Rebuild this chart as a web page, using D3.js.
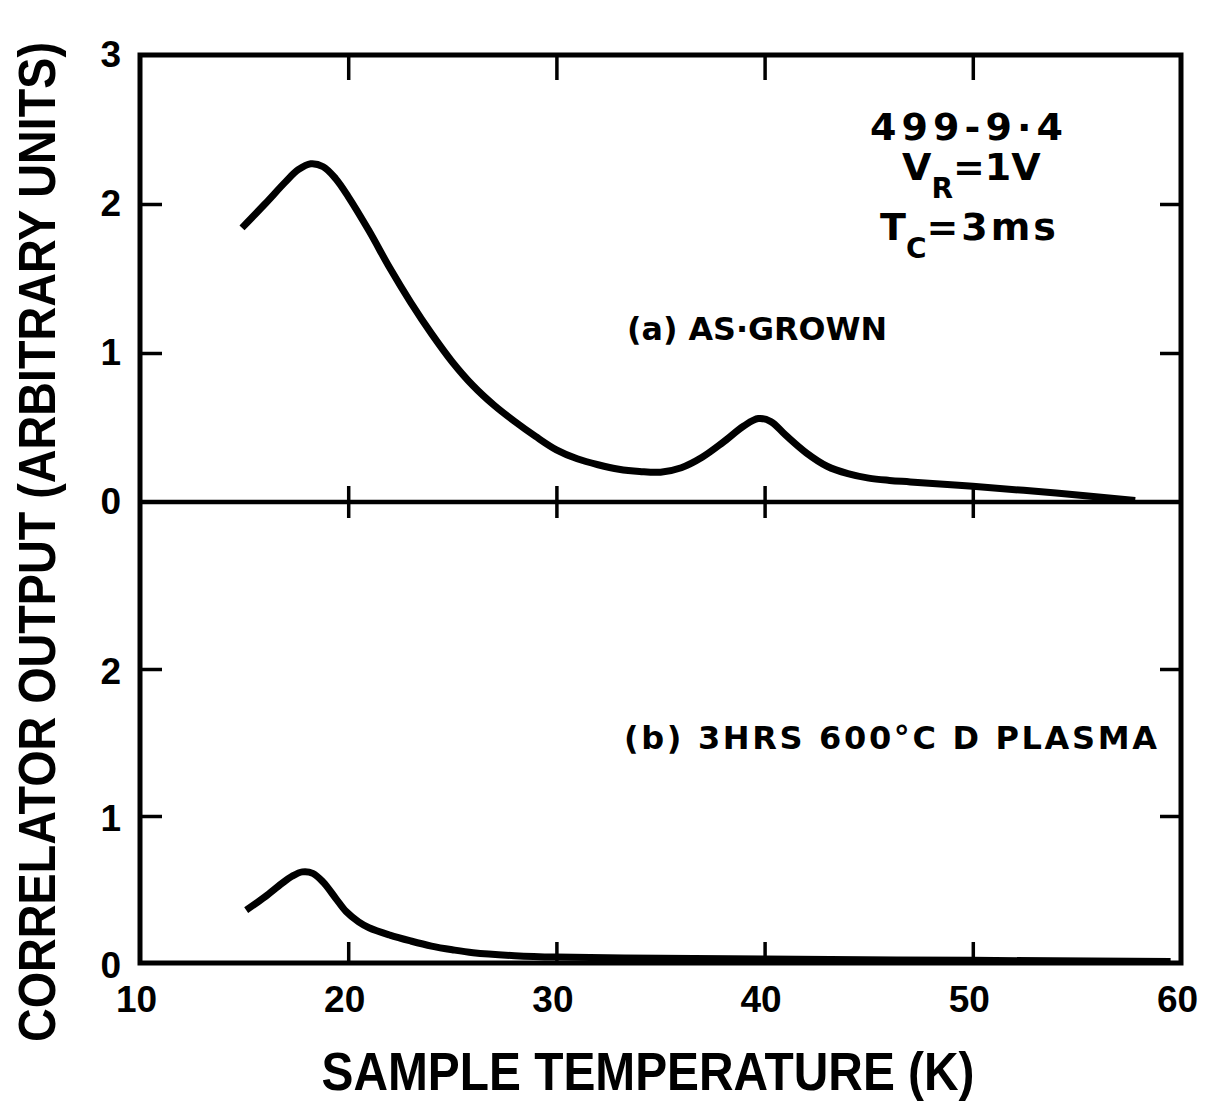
<!DOCTYPE html>
<html>
<head>
<meta charset="utf-8">
<script src="https://cdn.jsdelivr.net/npm/d3@7"></script>
<style>
  body { margin: 0; background: #fff; }
  svg { display: block; }
  text { font-family: "Liberation Sans", Arial, sans-serif; font-weight: bold; fill: #000; }
  .wide { font-family: "DejaVu Sans", sans-serif; }
</style>
</head>
<body>
<svg width="1211" height="1101"></svg>
<script>
// sample temperature (K) and correlator output
const tempA = [14.9, 16, 17, 17.6, 18.2, 18.8, 19.4, 20, 21, 22, 23, 24, 25, 26, 27, 28, 29, 30, 31, 32, 33, 34, 35, 36, 37, 38, 39, 39.7, 40.3, 41, 42, 43, 44, 45, 46, 47, 50, 54, 57.8];
const outA  = [1.84, 2.00, 2.15, 2.23, 2.27, 2.25, 2.17, 2.05, 1.82, 1.57, 1.34, 1.13, 0.94, 0.78, 0.65, 0.54, 0.44, 0.35, 0.29, 0.25, 0.22, 0.205, 0.20, 0.23, 0.30, 0.40, 0.51, 0.56, 0.54, 0.45, 0.33, 0.24, 0.19, 0.16, 0.145, 0.135, 0.105, 0.06, 0.01];

const tempB = [15.1, 16, 16.8, 17.3, 17.8, 18.3, 18.8, 19.4, 19.9, 20.5, 21, 22, 23, 24, 25, 26, 28, 30, 35, 40, 50, 59.5];
const outB  = [0.36, 0.45, 0.54, 0.59, 0.62, 0.61, 0.55, 0.44, 0.35, 0.28, 0.24, 0.19, 0.15, 0.115, 0.09, 0.07, 0.05, 0.04, 0.032, 0.027, 0.018, 0.01];

const xTicks = [10, 20, 30, 40, 50, 60];
const yTicksA = [0, 1, 2, 3];
const yTicksB = [0, 1, 2];

const svg = d3.select("svg");

const x = d3.scaleLinear().domain([10, 60]).range([140, 1181]);
const yA = d3.scaleLinear().domain([0, 3]).range([502, 55]);
const yB = d3.scaleLinear().domain([0, 2]).range([963, 669]);

const xL = x(10), xR = x(60), yTop = yA(3), yMid = yA(0), yBot = yB(0);
const inner = xTicks.slice(1, -1);

function tickOnly(g) {
  g.select(".domain").remove();
  g.selectAll(".tick line").attr("stroke", "#000").attr("stroke-width", 3.5);
  g.selectAll(".tick text").remove();
}

// inner ticks on the horizontal lines
svg.append("g").attr("transform", `translate(0,${yTop})`)
  .call(d3.axisBottom(x).tickValues(inner).tickSize(25)).call(tickOnly);
svg.append("g").attr("transform", `translate(0,${yMid})`)
  .call(d3.axisTop(x).tickValues(inner).tickSize(16)).call(tickOnly);
svg.append("g").attr("transform", `translate(0,${yMid})`)
  .call(d3.axisBottom(x).tickValues(inner).tickSize(16)).call(tickOnly);
svg.append("g").attr("transform", `translate(0,${yBot})`)
  .call(d3.axisTop(x).tickValues(inner).tickSize(21)).call(tickOnly);

// inner ticks on the vertical sides
[yA, yB].forEach(y => {
  svg.append("g").attr("transform", `translate(${xL},0)`)
    .call(d3.axisRight(y).tickValues([1, 2]).tickSize(22)).call(tickOnly);
  svg.append("g").attr("transform", `translate(${xR},0)`)
    .call(d3.axisLeft(y).tickValues([1, 2]).tickSize(21)).call(tickOnly);
});

// frame
const frame = svg.append("g").attr("fill", "none").attr("stroke", "#000").attr("stroke-width", 5);
frame.append("path").attr("d", `M${xL},${yTop}H${xR}V${yBot}H${xL}Z`).attr("stroke-linejoin", "miter");
frame.append("line").attr("x1", xL).attr("x2", xR).attr("y1", yMid).attr("y2", yMid).attr("stroke-width", 4.5);

// tick labels
function labels(g) {
  g.select(".domain").remove();
  g.selectAll(".tick line").remove();
  g.selectAll(".tick text").attr("font-size", 37).attr("fill", "#000")
    .style("font-family", "'Liberation Sans', Arial, sans-serif").style("font-weight", "bold");
}
svg.append("g").attr("transform", `translate(${xL},0)`)
  .call(d3.axisLeft(yA).tickValues(yTicksA).tickSize(0).tickPadding(19).tickFormat(d3.format("d"))).call(labels);
svg.append("g").attr("transform", `translate(${xL},3)`)
  .call(d3.axisLeft(yB).tickValues(yTicksB).tickSize(0).tickPadding(19).tickFormat(d3.format("d"))).call(labels);
svg.append("g").attr("transform", `translate(-4,${yBot})`)
  .call(d3.axisBottom(x).tickValues(xTicks).tickSize(0).tickFormat(d3.format("d"))).call(labels)
  .selectAll(".tick text").attr("y", 49).attr("dy", 0);

// curves
const lineA = d3.line().x(d => x(d[0])).y(d => yA(d[1])).curve(d3.curveCatmullRom.alpha(0.5));
const lineB = d3.line().x(d => x(d[0])).y(d => yB(d[1])).curve(d3.curveCatmullRom.alpha(0.5));
svg.append("path").datum(d3.zip(tempA, outA)).attr("d", lineA)
  .attr("fill", "none").attr("stroke", "#000").attr("stroke-width", 7);
svg.append("path").datum(d3.zip(tempB, outB)).attr("d", lineB)
  .attr("fill", "none").attr("stroke", "#000").attr("stroke-width", 7);

// axis titles
svg.append("text").attr("transform", "translate(648,1090) scale(1,1.08)").attr("text-anchor", "middle")
  .attr("font-size", 50).attr("textLength", 653).attr("lengthAdjust", "spacingAndGlyphs")
  .text("SAMPLE TEMPERATURE (K)");
svg.append("text").attr("transform", "translate(55,542) rotate(-90) scale(1,1.22)").attr("text-anchor", "middle")
  .attr("font-size", 42).attr("textLength", 1000).attr("lengthAdjust", "spacingAndGlyphs")
  .text("CORRELATOR OUTPUT (ARBITRARY UNITS)");

// annotations
svg.append("text").attr("class", "wide").attr("x", 627).attr("y", 340)
  .attr("font-size", 32).attr("textLength", 260).attr("lengthAdjust", "spacingAndGlyphs")
  .text("(a) AS·GROWN");
svg.append("text").attr("class", "wide").attr("x", 624).attr("y", 749)
  .attr("font-size", 32).attr("textLength", 533).attr("lengthAdjust", "spacing")
  .text("(b) 3HRS 600°C D PLASMA");

const info = svg.append("g").attr("class", "info");
info.append("text").attr("class", "wide").attr("x", 870).attr("y", 140)
  .attr("font-size", 38).attr("textLength", 193).attr("lengthAdjust", "spacing")
  .text("499-9·4");
const vr = info.append("text").attr("class", "wide").attr("x", 902).attr("y", 180).attr("font-size", 38);
vr.append("tspan").text("V");
vr.append("tspan").attr("font-size", 28).attr("dy", 18).text("R");
vr.append("tspan").attr("dy", -18).text("=1V");
const tc = info.append("text").attr("class", "wide").attr("x", 880).attr("y", 240).attr("font-size", 38);
tc.append("tspan").text("T");
tc.append("tspan").attr("font-size", 28).attr("dy", 18).text("C");
tc.append("tspan").attr("dy", -18).attr("letter-spacing", 3).text("=3ms");
</script>
</body>
</html>
